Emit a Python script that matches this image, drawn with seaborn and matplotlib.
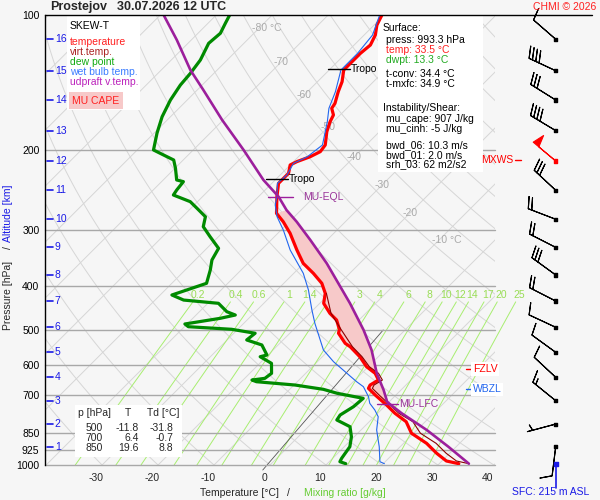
import numpy as np
import pandas as pd
import seaborn as sns
import matplotlib
matplotlib.use('Agg')
import matplotlib.pyplot as plt
from matplotlib.transforms import Affine2D, blended_transform_factory
from matplotlib.patches import Rectangle
from matplotlib.lines import Line2D

# ---- sounding data ----
t_p = [100, 105.3, 110.8, 116.6, 121.7, 129.2, 132.5, 140.7, 148.1, 157.2, 161.2, 166.8,
       172.6, 181.7, 194.5, 201.2, 206.5, 211.8, 215.4, 224.8, 236.6, 253.4, 275.9, 288.0,
       305.6, 332.9, 356.3, 375.0, 394.7, 415.4, 437.2, 460.2, 476.3, 500.0, 509.6, 536.6,
       546.0, 574.6, 604.8, 625.5, 647.4, 664.2, 675.6, 700.0, 735.6, 767.6, 801.4, 850.0,
       895.0, 942.0, 979.7, 993.3]
t_val = [-60.4, -59.5, -58.0, -57.1, -57.4, -57.4, -57.4, -55.6, -54.5, -53.0, -52.7, -51.2,
         -50.6, -49.4, -47.3, -47.0, -47.9, -49.4, -50.0, -48.8, -48.8, -46.7, -43.8, -41.1,
         -37.8, -33.6, -30.1, -26.5, -23.2, -20.8, -19.3, -16.4, -14.0, -11.8, -11.3, -8.3,
         -6.8, -3.3, -0.3, 2.4, 4.2, 3.6, 3.9, 6.4, 10.1, 13.1, 16.6, 19.6,
         24.1, 27.7, 30.8, 33.5]

tv_p = [993.3, 979.7, 942.0, 895.0, 850.0, 801.4, 767.6, 735.6, 700.0, 675.6, 664.2, 647.4,
        625.5, 604.8, 574.6, 546.0, 500.0, 460.2, 415.4]
tv_val = [35.3, 32.6, 29.4, 25.8, 21.2, 17.8, 13.8, 10.7, 7.1, 4.6, 4.3, 4.9,
          3.0, 0.2, -2.9, -6.4, -11.5, -16.2, -20.6]

td_p = [100, 104.3, 109.8, 115.6, 125.9, 134.8, 143.1, 154.5, 168.3, 182.9, 199.5, 204.7,
        210.0, 219.1, 232.6, 234.6, 244.8, 251.2, 259.9, 268.9, 280.7, 295.4, 310.9, 330.0,
        350.3, 368.8, 394.7, 419.0, 430.0, 437.2, 456.4, 464.2, 472.1, 486.0, 492.8, 499.4,
        509.6, 527.4, 541.1, 569.6, 574.6, 594.4, 625.6, 641.8, 647.4, 653.0, 664.2, 678.9,
        692.9, 711.0, 742.0, 774.3, 794.3, 822.0, 865.4, 910.7, 966.3, 983.3, 993.3]
td_val = [-87.6, -86.9, -86.0, -86.3, -84.8, -84.2, -83.9, -83.0, -81.5, -79.5, -77.1, -74.4,
          -71.7, -69.9, -67.6, -66.1, -65.8, -65.5, -61.3, -58.9, -55.9, -54.5, -51.5, -47.9,
          -47.0, -45.5, -43.8, -47.9, -44.9, -38.1, -35.1, -33.0, -35.1, -40.4, -39.3, -31.1,
          -26.2, -26.5, -22.9, -20.2, -21.1, -17.9, -16.1, -16.4, -18.4, -17.3, -9.8, -4.0,
          -0.8, 4.75, 4.5, 3.6, 3.9, 7.45, 9.5, 11.0, 11.6, 11.9, 13.3]

tw_p = [100, 110.8, 121.7, 132.5, 148.1, 161.2, 172.6, 194.5, 206.5, 213.6, 226.7, 236.6,
        253.4, 264.5, 280.7, 300.5, 332.9, 375.0, 408.4, 452.5, 484.3, 555.2, 589.5, 653.0,
        669.9, 705.1, 729.3, 754.7, 781.0, 836.0, 910.7, 983.3, 993.3]
tw_val = [-60.8, -58.5, -57.9, -57.9, -55.0, -53.2, -51.1, -47.8, -48.4, -49.7, -48.8, -49.0,
          -46.7, -45.5, -43.1, -39.6, -34.8, -28.3, -24.4, -20.2, -17.3, -11.0, -7.1, 0.6,
          2.7, 5.4, 6.8, 8.9, 10.7, 12.8, 16.25, 19.05, 20.2]

parcel_p = [993.3, 910.7, 836.0, 767.6, 733.0, 723.0, 681.3, 625.6, 555.2, 501.2, 437.2, 394.7,
            356.3, 316.2, 288.0, 271.3, 253.4, 232.6, 199.5, 171.1, 146.8, 132.5, 113.6, 100]
parcel_val = [35.3, 28.6, 21.75, 14.3, 10.6, 9.6, 6.9, 2.7, -2.4, -7.4, -14.6, -20.25,
              -25.9, -33.0, -38.7, -42.6, -46.4, -52.1, -61.0, -70.2, -78.9, -84.8, -92.6, -99.4]

ref_p = [1026, 501]
ref_t = [-0.4, -3.9]

lfc_p, lfc_t = 733.0, 10.4
eql_p, eql_t = 254.0, -46.4
tropo_p = [132.0, 232.0]
tropo_t = [-57.4, -48.8]
fzlv_p = 612.0
wbzl_p = 679.0
mxws_p = 210.0

mix_vals = [0.2, 0.4, 0.6, 1, 1.4, 2, 3, 4, 6, 8, 10, 12, 14, 17, 20, 25]
mix_labels = ['0.2', '0.4', '0.6', '1', '1.4', '2', '3', '4', '6', '8', '10', '12', '14', '17', '20', '25']

p_ticks = [100, 200, 300, 400, 500, 600, 700, 850, 925, 1000]
t_ticks = [-30, -20, -10, 0, 10, 20, 30, 40]
iso_lab_t = [-80, -70, -60, -50, -40, -30, -20, -10]
iso_lab_p = [107, 127.2, 150.6, 177.4, 206.8, 238.7, 275.4, 316.2]
iso_lab_txt = ['-80 °C', '-70', '-60', '-50', '-40', '-30', '-20', '-10 °C']

km_levels = list(range(1, 17))
km_p = [910.7, 811.0, 719.6, 638.4, 561.8, 494.3, 432.1, 378.2, 328.4, 284.4, 245.2, 211.1,
        180.7, 154.5, 133.0, 113.2]
wind_dir = [187, 255, 309, 313, 306, 295, 297, 306, 297, 291, 313, 310, 301, 302, 295, 311]
wind_spd = [10, 5, 15, 10, 10, 10, 20, 30, 20, 20, 30, 50, 40, 30, 40, 10]
sfc_p = 993.3

table_rows = [('500', '-11.8', '-31.8'), ('700', '6.4', '-0.7'), ('850', '19.6', '8.8')]

BG = '#f6f6f6'
W, H = 600, 500

sns.set_theme(style='white')
plt.rcParams['font.family'] = ['Liberation Sans', 'DejaVu Sans']
plt.rcParams['font.size'] = 7.5


def fx(x):
    return x / W


def fy(y):
    return 1 - y / H


fig = plt.figure(figsize=(6, 5), dpi=100, facecolor=BG)
ax = fig.add_axes([45 / W, 35 / H, 450 / W, 450 / H])
ax.set_facecolor(BG)
ax.set_yscale('log')

skew = ax.transData + Affine2D().translate(0, -35).skew_deg(45, 0).translate(0, 35)

# background lines
pg = np.logspace(np.log10(1050), 2, 80)
for t0 in range(-130, 50, 10):
    ax.plot(np.full_like(pg, t0), pg, color='#d6d6d6', lw=0.7, transform=skew, zorder=1)
for th in range(-40, 200, 10):
    ax.plot((th + 273.15) * (pg / 1000) ** 0.286 - 273.15, pg, color='#d6d6d6', lw=0.7,
            transform=skew, zorder=1)

pm = np.logspace(3, np.log10(434), 30)
for w, lab in zip(mix_vals, mix_labels):
    le = np.log(w * pm / (622 + w) / 6.112)
    ax.plot(243.5 * le / (17.67 - le), pm, color='#a8ee70', lw=0.7, transform=skew,
            zorder=1.5, clip_on=False)
    le = np.log(w * 419 / (622 + w) / 6.112)
    ax.text(243.5 * le / (17.67 - le), 419, lab, color='#99dd55', ha='center', va='center',
            transform=skew, zorder=1.6, clip_on=False)

ax.plot(ref_t, ref_p, color='#555555', lw=0.6, transform=skew, zorder=1.7, clip_on=False)

for p in p_ticks[1:]:
    ax.axhline(p, color='#a8a8a8', lw=1, zorder=1.8, clip_on=False)

for t, p, s in zip(iso_lab_t, iso_lab_p, iso_lab_txt):
    ax.text(t - 1.3, p, s, color='#aaaaaa', ha='left', va='center', transform=skew, zorder=1.9)

# CAPE area
pp = np.array(parcel_p)
pv = np.array(parcel_val)
tp = np.array(t_p)
tt = np.array(t_val)
m1 = (pp <= lfc_p) & (pp >= eql_p)
m2 = (tp <= lfc_p) & (tp >= eql_p)
ax.fill(np.r_[pv[m1], tt[m2][::-1][::-1]], np.r_[pp[m1], tp[m2]], color='#f7c9c9',
        lw=0, transform=skew, zorder=2)

# white boxes
for (x0, y0, x1, y1) in [(67, 15, 140, 110), (378, 15, 483, 172), (75, 405, 182, 457)]:
    ax.add_patch(Rectangle((fx(x0), fy(y1)), fx(x1 - x0), (y1 - y0) / H, facecolor='white',
                           edgecolor='none', transform=fig.transFigure, zorder=2.5,
                           clip_on=False))


def profile(p, t, color, lw, z):
    df = pd.DataFrame({'temp': t, 'pres': p})
    sns.lineplot(data=df, x='temp', y='pres', sort=False, estimator=None, ax=ax,
                 color=color, lw=lw, zorder=z)
    ax.lines[-1].set_transform(skew)


profile(td_p, td_val, '#008a00', 2.3, 3)
profile(t_p, t_val, '#ff0000', 2.3, 3.1)
profile(tv_p, tv_val, '#8b0000', 0.8, 3.2)
profile(tw_p, tw_val, '#2266ee', 0.8, 3.3)
profile(parcel_p, parcel_val, '#9c1f9c', 1.9, 3.4)

# markers
for p, t in zip(tropo_p, tropo_t):
    ax.plot([t - 3, t + 1], [p, p], color='black', lw=1, transform=skew, zorder=4)
    ax.text(t + 1.2, p, 'Tropo', color='black', ha='left', va='center', transform=skew,
            zorder=4)
ax.plot([eql_t - 1.8, eql_t + 2.7], [eql_p, eql_p], color='#9c1f9c', lw=1, transform=skew,
        zorder=4)
ax.text(eql_t + 4.4, eql_p, 'MU-EQL', color='#993399', ha='left', va='center',
        transform=skew, zorder=4)
ax.plot([lfc_t - 2.2, lfc_t + 1.6], [lfc_p, lfc_p], color='#9c1f9c', lw=1, transform=skew,
        zorder=4)
ax.text(lfc_t + 1.9, lfc_p, 'MU-LFC', color='#993399', ha='left', va='center',
        transform=skew, zorder=4)

bl = blended_transform_factory(ax.transAxes, ax.transData)
ax.plot([0.935, 0.947], [fzlv_p, fzlv_p], color='red', lw=1, transform=bl, zorder=4)
ax.text(0.951, fzlv_p, 'FZLV', color='red', ha='left', va='center', transform=bl, zorder=4,
        bbox=dict(facecolor='white', edgecolor='none', pad=1.2))
ax.plot([0.935, 0.947], [wbzl_p, wbzl_p], color='#2266ee', lw=1, transform=bl, zorder=4)
ax.text(0.951, wbzl_p, 'WBZL', color='#2266ee', ha='left', va='center', transform=bl,
        zorder=4, bbox=dict(facecolor='white', edgecolor='none', pad=1.2))
ax.text(1.04, mxws_p, 'MXWS', color='red', ha='right', va='center', transform=bl,
        clip_on=False)
ax.plot([1.045, 1.057], [mxws_p, mxws_p], color='red', lw=1, transform=bl, clip_on=False)

# altitude ticks
for k, p in zip(km_levels, km_p):
    ax.plot([0.004, 0.017], [p, p], color='#1a1ae6', lw=1.2, transform=bl, zorder=4)
    ax.text(0.022, p, str(k), color='#1a1ae6', ha='left', va='center', transform=bl, zorder=4)

# axes
ax.set_ylim(1000, 100)
ax.set_xlim(-40.2, 40.2)
ax.yaxis.set_minor_locator(matplotlib.ticker.NullLocator())
ax.set_yticks(p_ticks)
ax.set_yticklabels([str(p) for p in p_ticks])
ax.set_xticks([])
ax.tick_params(axis='y', length=0, pad=4, labelsize=7.5, colors='black')
ax.set_xlabel('')
ax.set_ylabel('')
for s in ['top', 'right', 'bottom']:
    ax.spines[s].set_visible(False)
ax.spines['left'].set_color('black')
ax.spines['left'].set_linewidth(1)
xb = blended_transform_factory(ax.transData, ax.transAxes)
for t in t_ticks:
    ax.text(t - 1.07, -0.029, str(t), ha='center', va='center', transform=xb, clip_on=False)

fig.add_artist(Line2D([fx(45), fx(592)], [fy(15), fy(15)], color='black', lw=1))

# wind barbs
bax = fig.add_axes([525.7 / W, 35 / H, 60 / W, 450 / H])
bax.set_yscale('log')
bax.set_ylim(1000, 100)
bax.set_xlim(0, 1)
bax.axis('off')
wd = np.radians(wind_dir)
spd = np.array(wind_spd, dtype=float)
cols = ['red' if s >= 50 else 'black' for s in wind_spd]
bax.barbs(np.full(len(km_p), 0.5), km_p, -spd * np.sin(wd), -spd * np.cos(wd), length=6.5,
          barbcolor=cols, flagcolor=cols, lw=0.8, clip_on=False)
bax.scatter(np.full(len(km_p), 0.5), km_p, marker='s', s=5, c=cols, zorder=5, clip_on=False)
bax.plot([0.5, 0.5], [sfc_p, 1124], color='#1a1ae6', lw=1.2, clip_on=False)
bax.scatter([0.5], [sfc_p], marker='s', s=9, c='#1a1ae6', zorder=5, clip_on=False)

# texts
fig.text(fx(50), fy(7), 'Prostejov', fontsize=9, fontweight='bold', va='center')
fig.text(fx(117), fy(7), '30.07.2026 12 UTC', fontsize=9, fontweight='bold', va='center')
fig.text(fx(596), fy(7), 'CHMI © 2026', color='#ff2020', ha='right', va='center', fontsize=7.5)

leg = [('SKEW-T', 'black', 26), ('temperature', '#ff2020', 42), ('virt.temp.', '#aa2222', 52),
       ('dew point', '#11aa11', 62), ('wet bulb temp.', '#3a7cff', 72),
       ('udpraft v.temp.', '#bb22bb', 82)]
for s, c, y in leg:
    fig.text(fx(70), fy(y), s, color=c, va='center', fontsize=7.5, zorder=6)
fig.text(fx(96), fy(100.5), 'MU CAPE', color='#ff2020', ha='center', va='center', fontsize=7.5,
         bbox=dict(facecolor='#f7c9c9', edgecolor='none', pad=2.5), zorder=6)

info = [('Surface:', 'black', 382.5, 27.7), ('press: 993.3 hPa', 'black', 386, 40),
        ('temp: 33.5 °C', '#ff2020', 386, 50), ('dwpt: 13.3 °C', '#22aa22', 386, 60),
        ('t-conv: 34.4 °C', 'black', 386, 74), ('t-mxfc: 34.9 °C', 'black', 386, 84),
        ('Instability/Shear:', 'black', 382.5, 108.3), ('mu_cape: 907 J/kg', 'black', 386, 119),
        ('mu_cinh: -5 J/kg', 'black', 386, 129), ('bwd_06: 10.3 m/s', 'black', 386, 145),
        ('bwd_01: 2.0 m/s', 'black', 386, 155), ('srh_03: 62 m2/s2', 'black', 386, 164.5)]
for s, c, x, y in info:
    fig.text(fx(x), fy(y), s, color=c, va='center', fontsize=7.5, zorder=6)

fig.text(fx(78), fy(413.3), 'p [hPa]', va='center', fontsize=7.5, zorder=6)
fig.text(fx(127.7), fy(413.3), 'T', ha='center', va='center', fontsize=7.5, zorder=6)
fig.text(fx(147), fy(413.3), 'Td [°C]', va='center', fontsize=7.5, zorder=6)
for i, (a, b, c) in enumerate(table_rows):
    y = 428.3 + 10 * i
    fig.text(fx(102.5), fy(y), a, ha='right', va='center', fontsize=7.5, zorder=6)
    fig.text(fx(139), fy(y), b, ha='right', va='center', fontsize=7.5, zorder=6)
    fig.text(fx(173.5), fy(y), c, ha='right', va='center', fontsize=7.5, zorder=6)

fig.text(fx(8), fy(295), 'Pressure [hPa]', rotation=90, ha='center', va='center', fontsize=7.5)
fig.text(fx(8), fy(248), '/', rotation=90, ha='center', va='center', fontsize=7.5)
fig.text(fx(8), fy(213), 'Altitude [km]', rotation=90, ha='center', va='center', fontsize=7.5,
         color='#1a1ae6')
fig.text(fx(239.5), fy(492.5), 'Temperature [°C]', ha='center', va='center', fontsize=7.5)
fig.text(fx(288), fy(492.5), '/', ha='center', va='center', fontsize=7.5)
fig.text(fx(344.7), fy(492.5), 'Mixing ratio [g/kg]', ha='center', va='center', fontsize=7.5,
         color='#66cc33')
fig.text(fx(550.8), fy(492.3), 'SFC: 215 m ASL', ha='center', va='center', fontsize=7.5,
         color='#1a1ae6')

fig.savefig('out.png', dpi=100, facecolor=BG)
